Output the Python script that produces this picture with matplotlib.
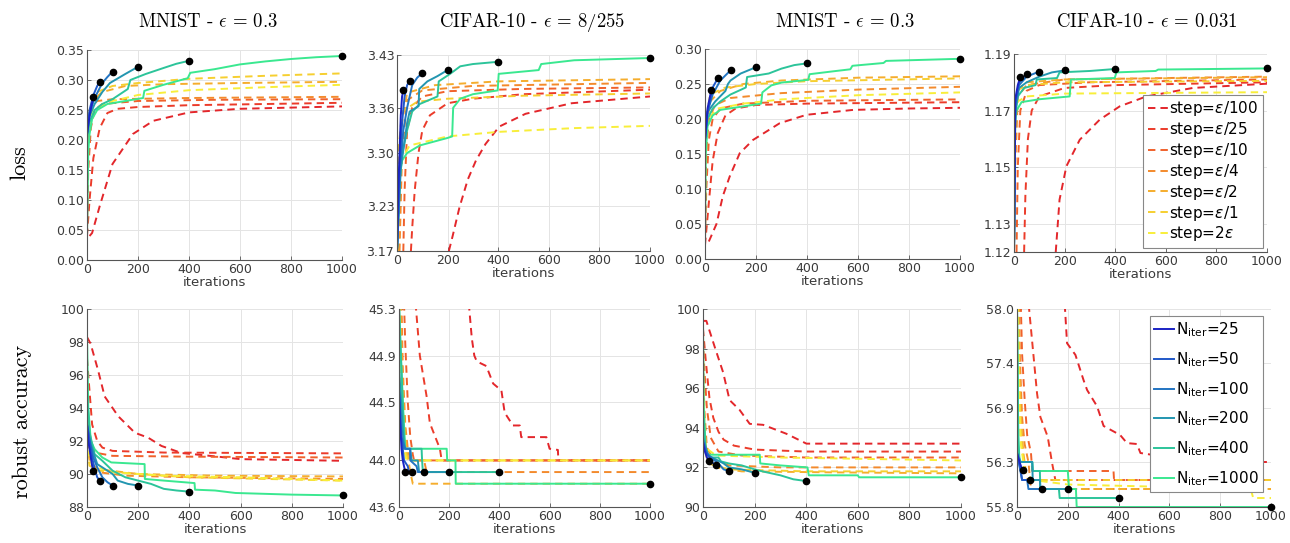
import matplotlib
matplotlib.use("Agg")
import matplotlib.pyplot as plt
import numpy as np

W, H = 1290, 543

# ---- labels / styles of the two curve families ---------------------------------
step_labels = [r"step=$\epsilon$/100", r"step=$\epsilon$/25", r"step=$\epsilon$/10",
               r"step=$\epsilon$/4", r"step=$\epsilon$/2", r"step=$\epsilon$/1",
               r"step=2$\epsilon$"]
step_colors = ["#e3262b", "#eb3b2a", "#f0612b", "#f38a2c", "#f5ad2d", "#f6cf30", "#f8ee3a"]

n_iters = [25, 50, 100, 200, 400, 1000]
iter_labels = [r"N$_{\mathrm{iter}}$=%d" % n for n in n_iters]
iter_colors = ["#1a22c4", "#2058c8", "#2274c2", "#2396b0", "#2cc49a", "#3ae890"]

titles = [r"MNIST - $\epsilon \,=\, 0.3$", r"CIFAR-10 - $\epsilon \,=\, 8/255$",
          r"MNIST - $\epsilon \,=\, 0.3$", r"CIFAR-10 - $\epsilon \,=\, 0.031$"]

x_ticks = [0, 200, 400, 600, 800, 1000]

# ---- y axes ---------------------------------------------------------------------
loss_ylims = [(0, 0.35), (3.17, 3.43), (0, 0.30), (1.12, 1.19)]
loss_ticks = [[0, 0.05, 0.10, 0.15, 0.20, 0.25, 0.30, 0.35],
              [3.17, 3.23, 3.30, 3.36, 3.43],
              [0, 0.05, 0.10, 0.15, 0.20, 0.25, 0.30],
              [1.12, 1.13, 1.15, 1.17, 1.19]]
loss_fmt = ["%.2f", "%.2f", "%.2f", "%.2f"]
acc_ylims = [(88, 100), (43.6, 45.3), (90, 100), (55.8, 58.0)]
acc_ticks = [[88, 90, 92, 94, 96, 98, 100],
             [43.6, 44.0, 44.5, 44.9, 45.3],
             [90, 92, 94, 96, 98, 100],
             [55.8, 56.3, 56.9, 57.4, 58.0]]
acc_fmt = ["%d", "%.1f", "%d", "%.1f"]

# ---- loss, column 1 (MNIST) -----------------------------------------------------
loss_mnist1_step = [
    [(10, 0.04), (20, 0.045), (50, 0.09), (100, 0.16), (180, 0.21), (260, 0.232), (400, 0.246), (600, 0.252), (800, 0.254), (1000, 0.256)],
    [(0, 0.04), (10, 0.1), (25, 0.17), (50, 0.22), (80, 0.245), (120, 0.252), (200, 0.255), (400, 0.258), (700, 0.26), (1000, 0.262)],
    [(0, 0.05), (5, 0.15), (15, 0.22), (30, 0.25), (60, 0.26), (200, 0.265), (500, 0.267), (1000, 0.268)],
    [(0, 0.1), (5, 0.22), (15, 0.255), (40, 0.265), (100, 0.268), (400, 0.27), (1000, 0.272)],
    [(0, 0.15), (5, 0.23), (20, 0.265), (60, 0.28), (150, 0.29), (300, 0.293), (600, 0.295), (1000, 0.297)],
    [(0, 0.2), (10, 0.25), (40, 0.28), (100, 0.29), (200, 0.295), (400, 0.302), (700, 0.307), (1000, 0.311)],
    [(0, 0.2), (20, 0.25), (100, 0.265), (200, 0.275), (400, 0.283), (700, 0.288), (1000, 0.292)],
]
loss_mnist1_iter = [
    [(0, 0.21), (10, 0.24), (20, 0.262), (25, 0.271)],
    [(0, 0.21), (10, 0.25), (25, 0.275), (40, 0.29), (50, 0.297)],
    [(0, 0.21), (10, 0.245), (30, 0.27), (60, 0.295), (80, 0.305), (100, 0.314)],
    [(0, 0.21), (10, 0.24), (30, 0.26), (60, 0.28), (90, 0.295), (110, 0.3), (150, 0.31), (200, 0.322)],
    [(0, 0.2), (10, 0.23), (30, 0.25), (60, 0.26), (100, 0.268), (160, 0.285), (170, 0.3), (230, 0.31), (300, 0.32), (350, 0.327), (400, 0.332)],
    [(0, 0.04), (5, 0.18), (10, 0.21), (20, 0.235), (40, 0.25), (80, 0.26), (150, 0.265), (220, 0.27), (225, 0.282), (300, 0.292),
     (395, 0.303), (405, 0.312), (500, 0.318), (600, 0.326), (700, 0.331), (800, 0.335), (900, 0.338), (1000, 0.34)],
]

# ---- loss, column 2 (CIFAR-10 8/255) ----------------------------------------------
loss_cifar1_step = [
    [(205, 3.17), (220, 3.19), (247, 3.228), (280, 3.265), (312, 3.29), (350, 3.312), (404, 3.335), (508, 3.352), (690, 3.366), (1000, 3.375)],
    [(55, 3.17), (60, 3.2), (70, 3.25), (85, 3.3), (100, 3.33), (130, 3.35), (200, 3.366), (300, 3.372), (500, 3.378), (1000, 3.384)],
    [(25, 3.17), (30, 3.25), (40, 3.33), (60, 3.36), (100, 3.375), (200, 3.382), (500, 3.385), (1000, 3.387)],
    [(10, 3.17), (20, 3.3), (40, 3.37), (100, 3.383), (300, 3.389), (1000, 3.393)],
    [(5, 3.17), (15, 3.33), (40, 3.38), (150, 3.39), (400, 3.395), (1000, 3.398)],
    [(0, 3.17), (5, 3.3), (20, 3.355), (80, 3.368), (200, 3.372), (500, 3.376), (1000, 3.379)],
    [(0, 3.17), (5, 3.25), (15, 3.29), (50, 3.31), (200, 3.322), (400, 3.328), (700, 3.333), (1000, 3.336)],
]
loss_cifar1_iter = [
    [(0, 3.17), (5, 3.25), (10, 3.3), (15, 3.35), (20, 3.375), (25, 3.383)],
    [(0, 3.17), (10, 3.28), (20, 3.34), (30, 3.375), (40, 3.39), (50, 3.396)],
    [(0, 3.17), (10, 3.27), (25, 3.33), (40, 3.36), (60, 3.39), (80, 3.4), (100, 3.406)],
    [(0, 3.17), (15, 3.28), (40, 3.34), (50, 3.355), (85, 3.362), (88, 3.385), (120, 3.395), (160, 3.402), (200, 3.41)],
    [(0, 3.17), (15, 3.29), (40, 3.33), (60, 3.355), (90, 3.365), (160, 3.375), (165, 3.395), (210, 3.405), (250, 3.415), (300, 3.418), (400, 3.421)],
    [(0, 3.17), (8, 3.26), (20, 3.29), (40, 3.3), (90, 3.31), (200, 3.32), (218, 3.322), (222, 3.36), (250, 3.372), (300, 3.378),
     (398, 3.383), (402, 3.405), (560, 3.41), (570, 3.418), (700, 3.423), (1000, 3.426)],
]

# ---- loss, column 3 (MNIST) -----------------------------------------------------
loss_mnist2_step = [
    [(15, 0.025), (45, 0.05), (70, 0.09), (97, 0.118), (136, 0.151), (188, 0.17), (293, 0.194), (398, 0.206), (581, 0.213), (800, 0.215), (1000, 0.216)],
    [(0, 0.02), (10, 0.06), (30, 0.14), (50, 0.18), (80, 0.205), (120, 0.215), (200, 0.22), (400, 0.222), (1000, 0.224)],
    [(0, 0.03), (5, 0.1), (15, 0.17), (30, 0.2), (60, 0.215), (150, 0.222), (400, 0.226), (1000, 0.228)],
    [(0, 0.05), (5, 0.15), (15, 0.2), (40, 0.22), (100, 0.23), (300, 0.237), (600, 0.242), (1000, 0.246)],
    [(0, 0.1), (5, 0.18), (20, 0.225), (60, 0.24), (150, 0.25), (300, 0.255), (600, 0.259), (1000, 0.261)],
    [(0, 0.15), (5, 0.2), (20, 0.235), (80, 0.245), (200, 0.25), (400, 0.254), (1000, 0.258)],
    [(0, 0.15), (10, 0.2), (50, 0.215), (150, 0.222), (300, 0.228), (600, 0.234), (1000, 0.238)],
]
loss_mnist2_iter = [
    [(0, 0.17), (10, 0.215), (25, 0.242)],
    [(0, 0.17), (10, 0.21), (30, 0.245), (50, 0.258)],
    [(0, 0.17), (10, 0.21), (30, 0.235), (60, 0.255), (100, 0.2695)],
    [(0, 0.17), (10, 0.21), (40, 0.225), (80, 0.24), (90, 0.25), (100, 0.255), (140, 0.265), (200, 0.274)],
    [(0, 0.17), (10, 0.2), (30, 0.215), (60, 0.225), (100, 0.235), (160, 0.245), (165, 0.26), (250, 0.265), (300, 0.272), (350, 0.277), (400, 0.2795)],
    [(0, 0.025), (3, 0.15), (10, 0.19), (30, 0.205), (60, 0.213), (150, 0.218), (220, 0.222), (225, 0.238), (260, 0.248), (300, 0.252),
     (405, 0.256), (410, 0.264), (500, 0.268), (570, 0.271), (578, 0.276), (700, 0.28), (710, 0.283), (1000, 0.286)],
]

# ---- loss, column 4 (CIFAR-10 0.031) ----------------------------------------------
loss_cifar2_step = [
    [(165, 1.12), (180, 1.1385), (207, 1.1503), (260, 1.1597), (339, 1.1668), (418, 1.1715), (523, 1.175), (707, 1.178), (1000, 1.1795)],
    [(40, 1.12), (45, 1.14), (55, 1.16), (70, 1.17), (100, 1.175), (200, 1.178), (400, 1.179), (1000, 1.18)],
    [(10, 1.12), (15, 1.15), (25, 1.17), (50, 1.177), (100, 1.179), (300, 1.18), (1000, 1.181)],
    [(0, 1.12), (5, 1.15), (15, 1.175), (50, 1.179), (200, 1.181), (1000, 1.182)],
    [(0, 1.12), (3, 1.16), (10, 1.177), (50, 1.18), (200, 1.181), (1000, 1.1818)],
    [(0, 1.12), (3, 1.165), (10, 1.177), (50, 1.179), (200, 1.18), (1000, 1.1805)],
    [(0, 1.12), (3, 1.165), (10, 1.173), (50, 1.175), (200, 1.176), (1000, 1.1765)],
]
loss_cifar2_iter = [
    [(0, 1.12), (5, 1.174), (15, 1.179), (25, 1.1819)],
    [(0, 1.12), (5, 1.173), (20, 1.18), (50, 1.183)],
    [(0, 1.12), (5, 1.172), (20, 1.179), (50, 1.182), (100, 1.1838)],
    [(0, 1.12), (5, 1.17), (20, 1.178), (50, 1.18), (100, 1.182), (150, 1.1835), (200, 1.1842)],
    [(0, 1.12), (5, 1.168), (15, 1.175), (40, 1.178), (85, 1.179), (90, 1.181), (170, 1.1815), (180, 1.1835), (300, 1.184), (400, 1.1847)],
    [(0, 1.12), (3, 1.165), (10, 1.17), (30, 1.173), (100, 1.174), (220, 1.175), (225, 1.181), (300, 1.1812), (398, 1.1815),
     (405, 1.1835), (560, 1.184), (570, 1.1845), (1000, 1.1849)],
]

# ---- robust accuracy, column 1 --------------------------------------------------
acc_mnist1_step = [
    [(0, 98.3), (14, 97.9), (43, 96.3), (69, 94.7), (122, 93.5), (187, 92.5), (239, 92.2), (291, 91.7), (370, 91.27), (500, 91.07), (600, 90.9), (800, 90.85), (1000, 90.8)],
    [(0, 97), (10, 95), (20, 93), (40, 92), (60, 91.6), (100, 91.4), (300, 91.3), (1000, 91.25)],
    [(0, 94), (5, 93), (15, 92), (30, 91.3), (100, 91.1), (400, 91.05), (1000, 91.0)],
    [(0, 92), (5, 91.5), (20, 90.5), (50, 90.1), (150, 89.9), (400, 89.8), (1000, 89.7)],
    [(0, 92), (10, 90.8), (40, 90.3), (200, 90.0), (500, 89.9), (1000, 89.85)],
    [(0, 91.5), (10, 90.5), (50, 90.2), (200, 90.0), (400, 89.8), (1000, 89.6)],
    [(0, 91.5), (20, 90.5), (100, 90.1), (300, 89.9), (600, 89.8), (1000, 89.6)],
]
acc_mnist1_iter = [
    [(0, 93), (5, 92), (10, 91.5), (15, 91), (20, 90.5), (25, 90.2)],
    [(0, 93), (10, 92), (20, 91), (30, 90.3), (40, 89.8), (50, 89.6)],
    [(0, 93), (10, 92), (25, 91), (40, 90.4), (60, 89.8), (80, 89.5), (100, 89.3)],
    [(0, 93), (15, 91.8), (40, 90.6), (60, 90.4), (100, 90), (120, 89.6), (160, 89.4), (200, 89.3)],
    [(0, 95), (10, 92.5), (30, 91.2), (60, 90.8), (100, 90.2), (150, 89.8), (200, 89.6), (250, 89.4), (300, 89.1), (350, 89), (400, 88.93)],
    [(0, 98.5), (5, 94), (15, 92), (30, 91.5), (60, 91), (95, 90.7), (225, 90.6), (226, 89.7), (300, 89.6), (420, 89.45), (422, 89.05),
     (500, 89.0), (580, 88.85), (800, 88.75), (1000, 88.7)],
]

# ---- robust accuracy, column 2 --------------------------------------------------
acc_cifar1_step = [
    [(278, 45.35), (290, 45.05), (300, 44.9), (310, 44.85), (348, 44.81), (375, 44.66), (408, 44.6), (421, 44.41), (454, 44.3), (481, 44.3),
     (487, 44.2), (587, 44.2), (600, 44.1), (633, 44.09), (635, 44.0), (1000, 44.0)],
    [(66, 45.35), (83, 44.9), (110, 44.55), (123, 44.32), (163, 44.1), (170, 44.0), (1000, 44.0)],
    [(20, 45.35), (25, 45), (35, 44.5), (45, 44.2), (55, 44.05), (60, 44.0), (1000, 44.0)],
    [(10, 45.35), (15, 44.8), (25, 44.3), (35, 44.1), (45, 44.0), (100, 44.0), (110, 43.9), (1000, 43.9)],
    [(5, 45.35), (10, 44.9), (20, 44.4), (30, 44.1), (45, 43.9), (55, 43.8), (1000, 43.8)],
    [(0, 45.35), (5, 44.9), (15, 44.3), (25, 44.1), (35, 44.0), (1000, 44.0)],
    [(0, 45.35), (5, 44.8), (10, 44.4), (20, 44.1), (30, 44.0), (1000, 44.0)],
]
acc_cifar1_iter = [
    [(0, 44.6), (5, 44.3), (10, 44.1), (15, 44.0), (20, 43.95), (25, 43.9)],
    [(0, 44.6), (10, 44.2), (20, 44.0), (35, 43.95), (40, 43.9), (50, 43.9)],
    [(0, 44.6), (10, 44.2), (25, 44.1), (44, 44.1), (45, 44.0), (70, 43.95), (75, 43.9), (100, 43.9)],
    [(0, 44.8), (20, 44.1), (45, 44.1), (50, 44.0), (75, 44.0), (80, 43.9), (200, 43.9)],
    [(0, 45.35), (20, 44.2), (25, 44.1), (90, 44.1), (92, 44.0), (95, 43.9), (400, 43.9)],
    [(0, 45.35), (5, 45.0), (15, 44.5), (25, 44.1), (190, 44.1), (192, 44.0), (225, 44.0), (226, 43.8), (1000, 43.8)],
]

# ---- robust accuracy, column 3 --------------------------------------------------
acc_mnist2_step = [
    [(0, 99.4), (13, 99.4), (45, 98.1), (78, 96.8), (103, 95.4), (142, 94.9), (181, 94.2), (233, 94.15), (323, 93.7), (401, 93.2), (1000, 93.2)],
    [(0, 99), (10, 97.5), (25, 95.5), (40, 94.5), (60, 93.8), (80, 93.4), (120, 93.1), (200, 92.9), (400, 92.8), (1000, 92.8)],
    [(0, 98.5), (5, 97), (15, 95), (30, 93.5), (60, 92.8), (150, 92.6), (400, 92.5), (1000, 92.5)],
    [(0, 98), (5, 95), (15, 93), (40, 92.4), (100, 92.1), (300, 92.0), (1000, 92.0)],
    [(0, 97), (5, 94), (15, 92.5), (50, 92.0), (150, 91.8), (500, 91.75), (1000, 91.7)],
    [(0, 96), (5, 93), (20, 92.2), (100, 91.9), (400, 91.8), (1000, 91.8)],
    [(0, 96), (10, 93), (50, 92.6), (300, 92.5), (1000, 92.35)],
]
acc_mnist2_iter = [
    [(0, 93.3), (5, 92.9), (15, 92.5), (25, 92.3)],
    [(0, 93.3), (10, 92.8), (25, 92.5), (40, 92.2), (50, 92.1)],
    [(0, 93.3), (15, 92.7), (40, 92.4), (60, 92.2), (80, 91.9), (100, 91.82)],
    [(0, 93.5), (20, 92.6), (50, 92.4), (80, 92.2), (100, 92.0), (150, 91.9), (200, 91.73)],
    [(0, 95), (10, 92.8), (30, 92.5), (60, 92.5), (70, 92.3), (100, 92.2), (150, 92.1), (200, 91.9), (230, 91.8), (300, 91.6), (350, 91.4), (400, 91.31)],
    [(0, 99.4), (3, 95), (10, 93), (20, 92.64), (220, 92.64), (222, 92.2), (300, 92.1), (405, 92.0), (410, 91.6), (600, 91.6), (605, 91.5), (1000, 91.5)],
]

# ---- robust accuracy, column 4 --------------------------------------------------
acc_cifar2_step = [
    [(188, 58.05), (197, 57.62), (230, 57.49), (262, 57.21), (276, 57.1), (315, 56.92), (341, 56.7), (406, 56.6), (433, 56.51), (472, 56.5),
     (486, 56.4), (600, 56.35), (800, 56.3), (1000, 56.3)],
    [(46, 58.05), (79, 57.06), (92, 56.8), (121, 56.58), (138, 56.29), (151, 56.1), (1000, 56.1)],
    [(15, 58.05), (20, 57.5), (30, 57.0), (40, 56.6), (55, 56.4), (60, 56.2), (380, 56.2), (382, 56.1), (1000, 56.1)],
    [(8, 58.05), (12, 57.4), (20, 56.8), (30, 56.5), (45, 56.3), (55, 56.0), (1000, 56.0)],
    [(5, 58.05), (10, 57.3), (15, 56.8), (25, 56.4), (40, 56.1), (200, 56.1), (210, 56.0), (1000, 56.0)],
    [(3, 58.05), (8, 57.2), (15, 56.6), (30, 56.2), (60, 56.1), (1000, 56.1)],
    [(3, 58.05), (8, 57.0), (15, 56.5), (30, 56.2), (60, 56.1), (200, 56.05), (920, 56.0), (930, 55.9), (1000, 55.9)],
]
acc_cifar2_iter = [
    [(0, 56.4), (10, 56.3), (20, 56.22), (25, 56.21)],
    [(0, 56.4), (15, 56.2), (20, 56.1), (50, 56.1)],
    [(0, 56.4), (20, 56.1), (40, 56.1), (45, 56.0), (100, 56.0)],
    [(0, 56.4), (15, 56.3), (60, 56.3), (62, 56.1), (90, 56.1), (92, 56.0), (200, 56.0)],
    [(0, 58.05), (5, 56.5), (10, 56.3), (60, 56.3), (62, 56.2), (90, 56.2), (92, 56.0), (165, 56.0), (168, 55.9), (400, 55.9)],
    [(0, 58.05), (5, 56.6), (10, 56.3), (60, 56.3), (62, 56.2), (200, 56.2), (205, 56.0), (232, 56.0), (235, 55.8), (1000, 55.8)],
]

loss_step = [loss_mnist1_step, loss_cifar1_step, loss_mnist2_step, loss_cifar2_step]
loss_iter = [loss_mnist1_iter, loss_cifar1_iter, loss_mnist2_iter, loss_cifar2_iter]
acc_step = [acc_mnist1_step, acc_cifar1_step, acc_mnist2_step, acc_cifar2_step]
acc_iter = [acc_mnist1_iter, acc_cifar1_iter, acc_mnist2_iter, acc_cifar2_iter]

# axes boxes in pixels: left, top, right, bottom
top_boxes = [(87, 50, 342, 260), (397, 55, 650, 251), (705, 49, 960, 259), (1014, 54, 1267, 252)]
bot_boxes = [(87, 309, 343, 507), (399, 309, 650, 507), (703, 309, 961, 507), (1017, 309, 1271, 507)]
title_x = [208, 532, 845, 1147]

GREY = "#3a3a3a"


def px_axes(fig, box):
    l, t, r, b = box
    return fig.add_axes([l / W, 1 - b / H, (r - l) / W, (b - t) / H])


def style(ax, ylim, yticks, fmt):
    ax.set_xlim(0, 1000)
    ax.set_ylim(*ylim)
    ax.set_xticks(x_ticks)
    ax.set_yticks(yticks)
    ax.set_yticklabels([fmt % v for v in yticks])
    ax.grid(True, color="#e4e4e4", lw=0.7)
    ax.set_axisbelow(True)
    for s in ["top", "right"]:
        ax.spines[s].set_visible(False)
    for s in ["left", "bottom"]:
        ax.spines[s].set_color("#555555")
        ax.spines[s].set_linewidth(0.8)
    ax.tick_params(direction="in", length=3, width=0.6, colors="#555555",
                   labelcolor=GREY, labelsize=9, pad=2)
    ax.set_xlabel("iterations", fontsize=9.5, color=GREY, labelpad=0)


def draw(ax, step_curves, iter_curves):
    hs, hi = [], []
    for pts, c, lab in zip(step_curves, step_colors, step_labels):
        x, y = np.array(pts).T
        h, = ax.plot(x, y, color=c, lw=1.4, ls=(0, (3.8, 2.6)), label=lab)
        hs.append(h)
    for pts, c, lab in list(zip(iter_curves, iter_colors, iter_labels))[::-1]:
        x, y = np.array(pts).T
        h, = ax.plot(x, y, color=c, lw=1.4, label=lab)
        hi.insert(0, h)
    for pts in iter_curves:
        ax.plot(pts[-1][0], pts[-1][1], "o", color="k", ms=4.5, zorder=6, clip_on=False)
    return hs, hi


def legend(ax, handles, loc, anchor, spacing):
    leg = ax.legend(handles=handles, loc=loc, bbox_to_anchor=anchor, borderaxespad=0,
                    fontsize=11, handlelength=1.3, handletextpad=0.1, labelspacing=spacing,
                    borderpad=0.3, fancybox=False, framealpha=1)
    leg.get_frame().set_edgecolor("#888888")
    leg.get_frame().set_linewidth(0.8)


fig = plt.figure(figsize=(W / 100, H / 100), dpi=100)

for i in range(4):
    ax = px_axes(fig, top_boxes[i])
    hs, hi = draw(ax, loss_step[i], loss_iter[i])
    style(ax, loss_ylims[i], loss_ticks[i], loss_fmt[i])
    if i == 3:
        legend(ax, hs, "lower right", (0.984, 0.02), 0.12)

    ax = px_axes(fig, bot_boxes[i])
    hs, hi = draw(ax, acc_step[i], acc_iter[i])
    style(ax, acc_ylims[i], acc_ticks[i], acc_fmt[i])
    if i == 3:
        legend(ax, hi, "upper right", (0.968, 0.965), 0.72)

    fig.text(title_x[i] / W, 1 - 22 / H, titles[i], ha="center", va="center",
             fontsize=13.5, family="cmr10", math_fontfamily="cm")

fig.text(20 / W, 1 - 163 / H, "loss", rotation=90, ha="center", va="center",
         fontsize=16, family="cmr10")
fig.text(22 / W, 1 - 421 / H, "robust accuracy", rotation=90, ha="center", va="center",
         fontsize=16, family="cmr10")

fig.savefig("out.png", dpi=100)
